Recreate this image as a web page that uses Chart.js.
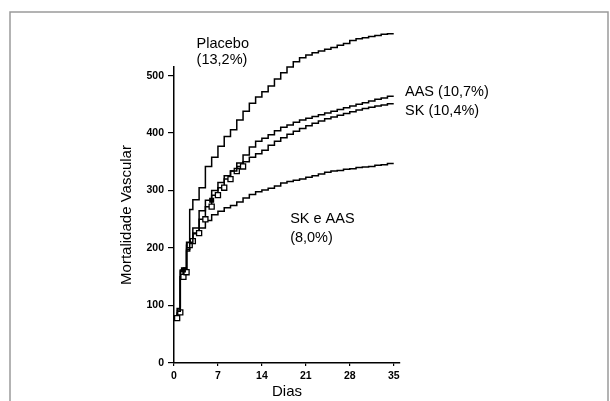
<!DOCTYPE html>
<html>
<head>
<meta charset="utf-8">
<script src="https://cdn.jsdelivr.net/npm/chart.js@4"></script>
<style>
  body { margin: 0; background: #fff; }
  canvas { display: block; }
</style>
</head>
<body>
<canvas id="myChart" width="610" height="401"></canvas>
<script>
var days = [0.5, 1, 1.5, 2, 2.5, 3, 4, 5, 6, 7, 8, 9, 10, 11, 12, 13, 14, 15, 16, 17, 18,
            19, 20, 21, 22, 23, 24, 25, 26, 27, 28, 29, 30, 31, 32, 33, 34, 35];
var placebo = [90, 95, 160, 165, 210, 267, 284, 305, 342, 358, 377, 394, 406, 423, 438, 452, 463, 472, 482,
               494, 505, 515, 524, 531, 536, 540, 543, 546, 549, 553, 556, 561, 564, 566, 568, 570, 572, 573];
var aas = [82, 90, 162, 165, 198, 210, 235, 265, 283, 300, 314, 326, 334, 348, 362, 376, 386, 391, 397,
           404, 410, 414, 419, 423, 426, 429, 432, 435, 438, 441, 444, 447, 450, 453, 456, 459, 461, 464];
var sk = [78, 88, 150, 158, 205, 212, 226, 250, 272, 292, 305, 320, 334, 342, 350, 358, 364, 370, 379,
          386, 392, 398, 403, 408, 413, 417, 421, 425, 428, 431, 434, 437, 440, 443, 445, 447, 449, 451];
var skAas = [75, 85, 150, 160, 195, 210, 225, 235, 248, 258, 264, 270, 274, 280, 287, 293, 298, 301, 304,
             308, 313, 316, 318, 320, 323, 326, 329, 332, 334, 335, 337, 338, 340, 341, 342, 344, 345, 347];
var xTicks = [0, 7, 14, 21, 28, 35];
var yTicks = [0, 100, 200, 300, 400, 500];

// curve labels, placed in data units
var notes = [
    { text: 'Placebo', day: 3.6, value: 548 },
    { text: '(13,2%)', day: 3.6, value: 521 },
    { text: 'AAS (10,7%)', day: 36.8, value: 464 },
    { text: 'SK (10,4%)', day: 36.8, value: 431 },
    { text: 'SK e AAS', day: 18.5, value: 243 },
    { text: '(8,0%)', day: 18.5, value: 210 }
];

function pts(vals) {
    return days.map(function (d, i) { return { x: d, y: vals[i] }; });
}

var frame = {
    id: 'frame',
    beforeDraw: function (chart) {
        var c = chart.ctx;
        c.save();
        c.fillStyle = '#fff';
        c.fillRect(0, 0, chart.width, chart.height);
        c.strokeStyle = '#9a9a9a';
        c.lineWidth = 1.5;
        c.beginPath();
        c.moveTo(10, 401);
        c.lineTo(10, 12);
        c.lineTo(608, 12);
        c.lineTo(608, 401);
        c.stroke();
        c.restore();
    },
    afterDraw: function (chart) {
        var c = chart.ctx, x = chart.scales.x, y = chart.scales.y;
        c.save();
        c.fillStyle = '#000';
        c.font = '14.5px "Liberation Sans", Arial, sans-serif';
        c.textBaseline = 'alphabetic';
        notes.forEach(function (n) {
            c.fillText(n.text, x.getPixelForValue(n.day), y.getPixelForValue(n.value));
        });
        c.restore();
    }
};

var line = function (label, vals, extra) {
    var ds = {
        label: label,
        data: pts(vals),
        stepped: 'after',
        borderColor: '#000',
        borderWidth: 1.5,
        pointRadius: 0,
        fill: false,
        clip: false
    };
    return Object.assign(ds, extra || {});
};

var tickFont = { family: '"Liberation Sans", Arial, sans-serif', size: 10.5, weight: 'bold' };
var titleFont = { family: '"Liberation Sans", Arial, sans-serif', size: 15 };

var ctx = document.getElementById('myChart').getContext('2d');
var myChart = new Chart(ctx, {
    type: 'line',
    data: {
        datasets: [
            line('Placebo', placebo),
            line('AAS', aas, {
                pointStyle: 'rect',
                pointRadius: function (c) { var d = days[c.dataIndex]; return (d === 1.5 || d === 6) ? 2.5 : 0; },
                pointBackgroundColor: '#000',
                pointBorderColor: '#000'
            }),
            line('SK', sk, {
                pointStyle: 'rect',
                pointRadius: function (c) { return days[c.dataIndex] <= 11 ? 3.6 : 0; },
                pointBackgroundColor: '#fff',
                pointBorderColor: '#000',
                pointBorderWidth: 1.3
            }),
            line('SK e AAS', skAas)
        ]
    },
    options: {
        responsive: false,
        animation: false,
        layout: { padding: { left: 118, top: 67, right: 210, bottom: 0 } },
        plugins: {
            legend: { display: false },
            tooltip: { enabled: false }
        },
        scales: {
            x: {
                type: 'linear',
                min: 0,
                max: 36,
                afterBuildTicks: function (axis) { axis.ticks = xTicks.map(function (v) { return { value: v }; }); },
                afterFit: function (axis) { axis.height = 38; },
                ticks: { color: '#000', font: tickFont, padding: 4, maxRotation: 0 },
                grid: { drawOnChartArea: false, drawTicks: true, tickLength: 3, color: '#000', lineWidth: 1.2 },
                border: { display: true, color: '#000', width: 1.5 },
                title: { display: true, text: 'Dias', color: '#000', font: titleFont, padding: 0 }
            },
            y: {
                min: 0,
                max: 515,
                afterBuildTicks: function (axis) { axis.ticks = yTicks.map(function (v) { return { value: v }; }); },
                afterFit: function (axis) { axis.width = 56; },
                ticks: { color: '#000', font: tickFont, padding: 4 },
                grid: { drawOnChartArea: false, drawTicks: true, tickLength: 6, color: '#000', lineWidth: 1.2 },
                border: { display: true, color: '#000', width: 1.5 },
                title: { display: true, text: 'Mortalidade Vascular', color: '#000', font: titleFont, padding: 0 }
            }
        }
    },
    plugins: [frame]
});
</script>
</body>
</html>
